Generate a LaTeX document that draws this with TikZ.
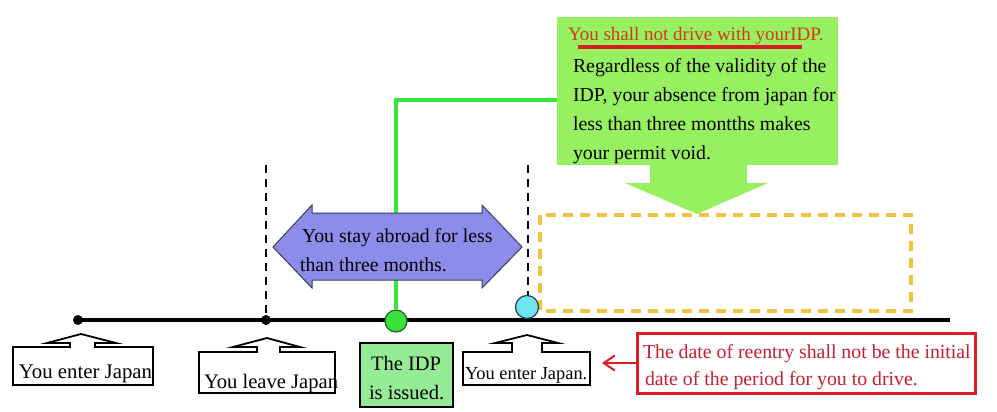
\documentclass[tikz,border=0pt]{standalone}
\usepackage{fontspec}
\setmainfont{Liberation Serif}
\usetikzlibrary{calc,arrows.meta}
\definecolor{callgreen}{RGB}{150,240,95}
\definecolor{linegreen}{RGB}{55,230,60}
\definecolor{idpgreen}{RGB}{150,235,150}
\definecolor{dotgreen}{RGB}{60,225,60}
\definecolor{dotcyan}{RGB}{110,230,240}
\definecolor{arrowblue}{RGB}{140,140,235}
\definecolor{dashyellow}{RGB}{240,195,60}
\definecolor{redc}{RGB}{225,25,35}
\definecolor{redtext}{RGB}{200,30,50}
\definecolor{titlered}{RGB}{215,55,25}
\tikzset{
  lbl/.style={anchor=base west, inner sep=0, outer sep=0},
  callout/.style={draw=black, line width=1.8, fill=white, line join=miter},
  anchorbox/.style={inner sep=0, outer sep=0, anchor=north west},
  vdash/.style={black, line width=1.1, dash pattern=on 8pt off 6pt},
}
\begin{document}
\begin{tikzpicture}[x=1pt,y=-1pt, font=\fontsize{19.8}{29}\selectfont]
\useasboundingbox[fill=white] (0,0) rectangle (997,412);

% dashed verticals
\draw[vdash] (266,165) -- (266,318);
\draw[vdash] (528,165) -- (528,295);

% yellow dashed period
\draw[dashyellow, line width=4, dash pattern=on 10pt off 7pt] (540,215) rectangle (911,311);

% green callout
\node[anchorbox, fill=callgreen, minimum width=281, minimum height=148] (warn) at (557,17) {};
\fill[callgreen] (650,164) -- (747,164) -- (747,183) -- (768,183) -- (697,214) -- (625,183) -- (650,183) -- cycle;
\node[lbl, text=titlered] (title) at (568,41) {\fontsize{19}{29}\selectfont You shall not drive with yourIDP.};
\draw[redc, line width=3.5] (578,47) -- (802,47);
\node[lbl] (w1) at (573,73) {Regardless of the validity of the};
\node[lbl] (w2) at (573,102) {IDP, your absence from japan for};
\node[lbl] (w3) at (573,131) {less than three montths makes};
\node[lbl] (w4) at (573,160) {your permit void.};

% timeline
\draw[black, line width=4] (78,320) coordinate (tstart) -- (950,320) coordinate (tend);
\node[circle, fill=black, minimum size=10, inner sep=0] (d1) at (78,320) {};
\node[circle, fill=black, minimum size=10, inner sep=0] (d2) at (266,320) {};
\node[circle, draw={rgb,255:red,30;green,100;blue,30}, line width=1.2, fill=dotgreen, minimum size=22, inner sep=0] (gdot) at (396,321) {};
\node[circle, draw={rgb,255:red,40;green,60;blue,80}, line width=1.2, fill=dotcyan, minimum size=23, inner sep=0] (cdot) at (527,307) {};

% green connector
\draw[linegreen, line width=4] (gdot.north) |- ($(warn.west)+(0,9)$);

% blue double arrow
\draw[fill=arrowblue, draw={rgb,255:red,60;green,60;blue,90}, line width=1]
  (273,247) -- (312,205) -- (312,213) -- (482,213) -- (482,205) -- (522,247)
  -- (482,288) -- (482,280) -- (312,280) -- (312,288) -- cycle;
\node[lbl] (stay1) at (302,242) {You stay abroad for less};
\node[lbl] (stay2) at (300,271) {than three months.};

% bottom callout boxes
\draw[callout] (13,347) -- (70,347) -- (70,343) -- (47,343) -- (81,334) -- (116,343) -- (95,343) -- (95,347) -- (153,347) -- (153,385) -- (13,385) -- cycle;
\node[anchorbox, minimum width=140, minimum height=38] (enter1) at (13,347) {};
\node[lbl] at (19,378) {\fontsize{20.8}{29}\selectfont You enter Japan};

\draw[callout] (199,352) -- (257,352) -- (257,347) -- (233,347) -- (267,338) -- (300,347) -- (280,347) -- (280,352) -- (335,352) -- (335,393) -- (199,393) -- cycle;
\node[anchorbox, minimum width=136, minimum height=41] (leave) at (199,352) {};
\node[lbl] at (204,388) {\fontsize{20.6}{29}\selectfont You leave Japan};

\node[anchorbox, draw=black, line width=1.5, fill=idpgreen, minimum width=93, minimum height=64] (idp) at (360,343) {};
\node[lbl] at (371,370) {\fontsize{20.5}{29}\selectfont The IDP};
\node[lbl] at (369,399) {\fontsize{20.5}{29}\selectfont is issued.};

\draw[callout] (463,352) -- (512,352) -- (512,343) -- (495,343) -- (527,335) -- (558,343) -- (542,343) -- (542,352) -- (590,352) -- (590,385) -- (463,385) -- cycle;
\node[anchorbox, minimum width=127, minimum height=33] (enter2) at (463,352) {};
\node[lbl] at (465,379) {\fontsize{18.4}{24}\selectfont You enter Japan.};

% red note
\node[anchorbox, draw=redc, line width=3, minimum width=338, minimum height=60] (reentry) at (637,333) {};
\node[lbl, text=redtext] at (643,358) {The date of reentry shall not be the initial};
\node[lbl, text=redtext] at (645,385) {date of the period for you to drive.};
\draw[redc, line width=2, -{Straight Barb[length=11,width=15]}, shorten >=12] (reentry.west) -- (enter2.east |- reentry.west);
\end{tikzpicture}
\end{document}
